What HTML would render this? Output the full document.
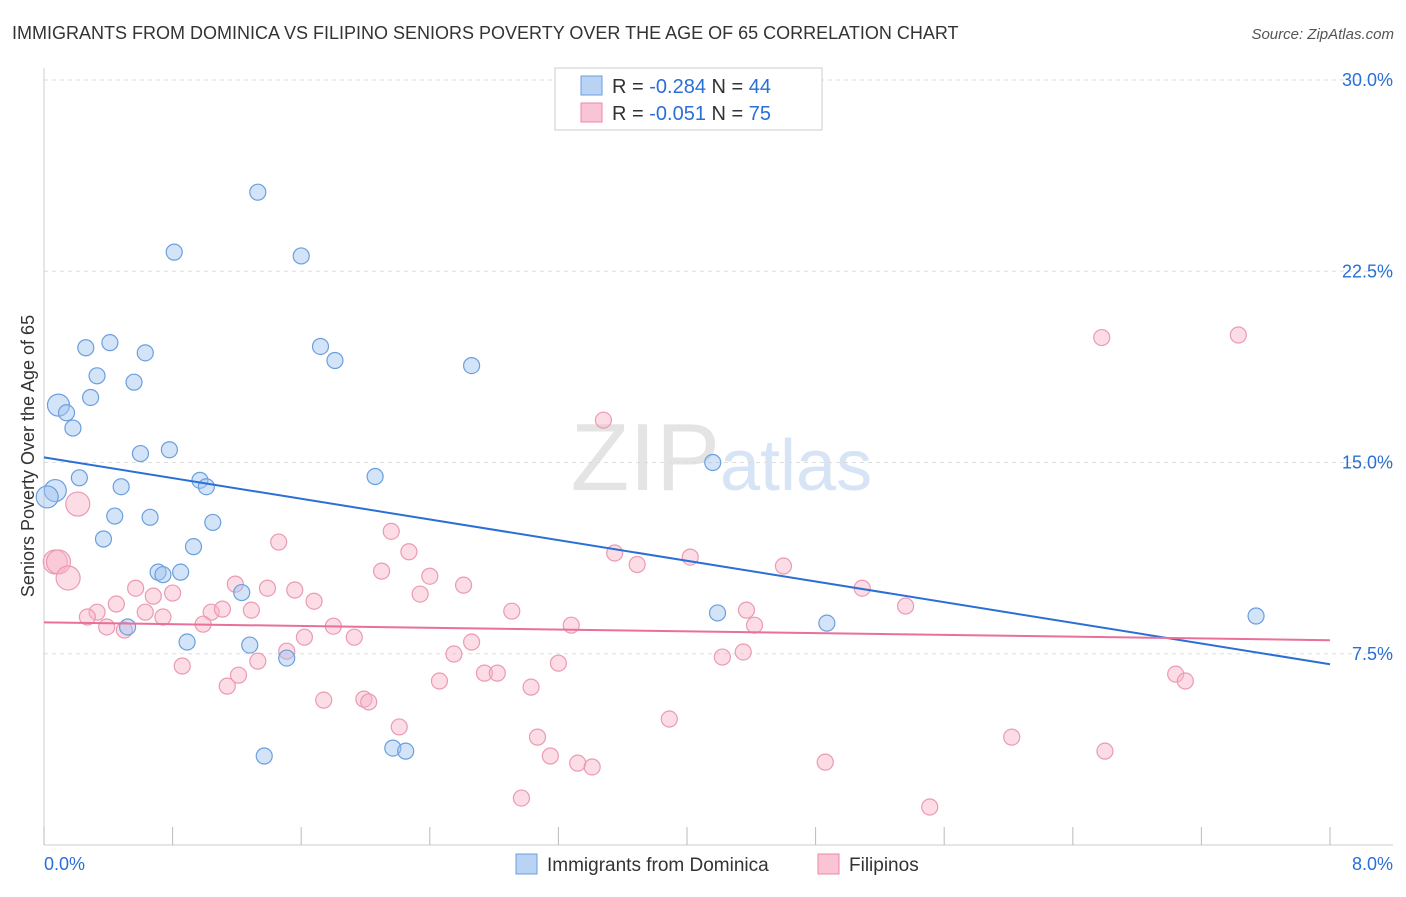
<!DOCTYPE html>
<html><head><meta charset="utf-8"><style>
body{margin:0;background:#fff;font-family:"Liberation Sans",sans-serif;}
svg text{font-family:"Liberation Sans",sans-serif;}
</style></head><body>
<svg id="chart" width="1406" height="892">
<text x="12" y="39" font-size="18" fill="#333">IMMIGRANTS FROM DOMINICA VS FILIPINO SENIORS POVERTY OVER THE AGE OF 65 CORRELATION CHART</text>
<text x="1394" y="39" font-size="15" fill="#555" font-style="italic" text-anchor="end">Source: ZipAtlas.com</text>
<text x="720" y="490" font-size="96" fill="#e4e4e4" text-anchor="end" font-family="Liberation Serif">ZIP</text>
<text x="720" y="490" font-size="72" fill="#d6e4f5">atlas</text>
<g id="grid"></g><g id="axes"></g><g id="marks"></g><g id="trends"></g>
<text transform="translate(34,456) rotate(-90)" font-size="18" fill="#333" text-anchor="middle">Seniors Poverty Over the Age of 65</text>
<g>
<rect x="555" y="68" width="267" height="62" fill="#fff" stroke="#ccc"/>
<rect x="581" y="76" width="21" height="19" fill="#b9d3f5" stroke="#6a9fde"/>
<rect x="581" y="103" width="21" height="19" fill="#fac4d4" stroke="#e98aa8"/>
<text x="612" y="93" font-size="20" fill="#333">R = <tspan fill="#2a6fd6">-0.284</tspan>   N = <tspan fill="#2a6fd6">44</tspan></text>
<text x="612" y="120" font-size="20" fill="#333">R = <tspan fill="#2a6fd6">-0.051</tspan>   N = <tspan fill="#2a6fd6">75</tspan></text>
</g>
<g>
<rect x="516" y="854" width="21" height="20" fill="#b9d3f5" stroke="#6a9fde"/>
<text x="547" y="871" font-size="19" fill="#333">Immigrants from Dominica</text>
<rect x="818" y="854" width="21" height="20" fill="#fac4d4" stroke="#e98aa8"/>
<text x="849" y="871" font-size="19" fill="#333">Filipinos</text>
</g>
</svg>
<script>
const yTicks=[7.5,15,22.5,30];
const yTickLabels=["7.5%","15.0%","22.5%","30.0%"];
const xTickLabels=["0.0%","8.0%"];
const blueX=[1.33,0.81,1.60,0.26,0.41,0.63,1.72,1.81,2.66,0.33,0.56,0.29,0.09,0.14,0.18,0.60,0.78,4.16,0.22,0.07,0.02,0.48,0.97,1.01,2.06,0.44,0.66,1.05,0.37,0.93,0.71,0.74,0.85,1.23,4.19,7.54,0.52,4.87,0.89,1.28,1.51,1.37,2.17,2.25];
const blueY=[25.6,23.25,23.1,19.5,19.7,19.3,19.55,19.0,18.8,18.4,18.15,17.55,17.25,16.95,16.35,15.35,15.5,15.0,14.4,13.9,13.65,14.05,14.3,14.05,14.45,12.9,12.85,12.65,12.0,11.7,10.7,10.6,10.7,9.9,9.1,8.98,8.55,8.7,7.96,7.84,7.33,3.49,3.8,3.68];
const blueBig=[0,0,0,0,0,0,0,0,0,0,0,0,1,0,0,0,0,0,0,1,1,0,0,0,0,0,0,0,0,0,0,0,0,0,0,0,0,0,0,0,0,0,0,0];
const pinkX=[3.48,6.58,7.43,0.21,0.07,0.09,0.15,2.16,1.46,2.27,3.55,4.02,3.69,4.60,2.10,2.40,2.61,5.09,1.19,0.57,1.39,1.56,2.34,0.80,0.68,1.68,0.45,5.36,0.33,0.27,0.63,1.04,1.11,1.29,2.91,4.37,0.74,0.39,0.50,0.99,1.80,3.28,4.42,1.62,1.93,2.66,1.51,2.55,4.35,4.22,1.33,3.20,0.86,1.21,2.74,2.82,2.46,1.14,3.03,7.04,7.10,1.74,1.99,2.02,3.89,2.21,3.07,6.02,6.60,3.15,3.32,3.41,4.86,2.97,5.51];
const pinkY=[16.66,19.9,20.0,13.37,11.1,11.1,10.47,12.3,11.88,11.5,11.45,11.29,11.0,10.94,10.74,10.54,10.19,10.07,10.23,10.07,10.07,10.0,9.84,9.88,9.76,9.56,9.45,9.37,9.13,8.94,9.13,9.13,9.25,9.21,9.17,9.21,8.94,8.55,8.43,8.66,8.58,8.62,8.62,8.15,8.15,7.96,7.6,7.49,7.57,7.37,7.21,7.13,7.02,6.66,6.74,6.74,6.43,6.23,6.19,6.7,6.43,5.68,5.72,5.61,4.94,4.63,4.23,4.23,3.68,3.49,3.21,3.06,3.25,1.84,1.49];
const pinkBig=[0,0,0,1,1,1,1];
const blueTrend=[15.2,7.09];
const pinkTrend=[8.73,8.03];
const X0=44,X1=1330,Y0=845,YTOP=80;
const sx=v=>X0+(X1-X0)*v/8;
const sy=v=>Y0-(Y0-YTOP)*v/30;
const NS="http://www.w3.org/2000/svg";
function mk(tag,attrs,parent){const e=document.createElementNS(NS,tag);for(const k in attrs)e.setAttribute(k,attrs[k]);document.getElementById(parent).appendChild(e);return e;}
yTicks.forEach((t,i)=>{
 const l=mk('line',{x1:X0,x2:1393,y1:sy(t),y2:sy(t),stroke:'#ddd','stroke-dasharray':'4,4'},'grid');
 
 
 const tx=mk('text',{x:1393,y:sy(t)+6,'font-size':18,fill:'#2a6fd6','text-anchor':'end'},'grid');
 tx.textContent=yTickLabels[i];
 
 
});
const ax=mk('line',{x1:X0,x2:X0,y1:68,y2:Y0,stroke:'#ccc'},'axes');


const bx=mk('line',{x1:X0,x2:1393,y1:Y0,y2:Y0,stroke:'#ccc'},'axes');


for(let i=0;i<=10;i++){
 const t=mk('line',{x1:sx(i*0.8),x2:sx(i*0.8),y1:Y0-18,y2:Y0,stroke:'#bbb'},'axes');
 
 
}
[[X0,'start',0],[1393,'end',1]].forEach(([x,a,i])=>{
 const t=mk('text',{x:x,y:870,'font-size':18,fill:'#2a6fd6','text-anchor':a},'axes');
 t.textContent=xTickLabels[i];
 
 
});
pinkX.forEach((v,i)=>{
 const c=mk('circle',{cx:sx(v),cy:sy(pinkY[i]),r:pinkBig[i]?12:8,fill:'rgba(248,180,200,0.45)',stroke:'#eb9ab4','stroke-width':1.2},'marks');
 
 
});
blueX.forEach((v,i)=>{
 const c=mk('circle',{cx:sx(v),cy:sy(blueY[i]),r:blueBig[i]?11:8,fill:'rgba(160,196,240,0.45)',stroke:'#6a9fde','stroke-width':1.2},'marks');
 
 
});
const tb=mk('line',{x1:sx(0),y1:sy(blueTrend[0]),x2:sx(8),y2:sy(blueTrend[1]),stroke:'#2a6fd6','stroke-width':2},'trends');


const tp=mk('line',{x1:sx(0),y1:sy(pinkTrend[0]),x2:sx(8),y2:sy(pinkTrend[1]),stroke:'#e8709a','stroke-width':2},'trends');


</script>
</body></html>
